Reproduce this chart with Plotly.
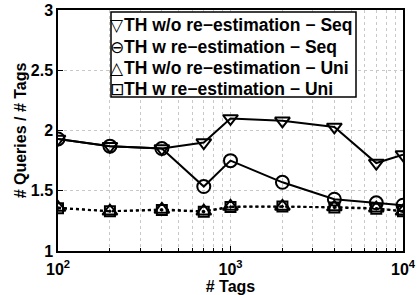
import plotly.graph_objects as go

tags = [100, 200, 400, 700, 1000, 2000, 4000, 7000, 10000]
th_wo_seq = [1.93, 1.87, 1.85, 1.90, 2.10, 2.08, 2.03, 1.73, 1.80]
th_w_seq = [1.93, 1.87, 1.85, 1.535, 1.75, 1.57, 1.43, 1.40, 1.38]
th_wo_uni = [1.36, 1.33, 1.345, 1.33, 1.37, 1.37, 1.365, 1.355, 1.33]
th_w_uni = [1.355, 1.33, 1.34, 1.325, 1.365, 1.37, 1.36, 1.35, 1.33]
names = ["TH w/o re\u2212estimation \u2212 Seq", "TH w re\u2212estimation \u2212 Seq",
         "TH w/o re\u2212estimation \u2212 Uni", "TH w re\u2212estimation \u2212 Uni"]
legend_glyphs = ["\u25BD", "\u2296", "\u25B3", "\u22A1"]
symbols = ["triangle-down-open", "circle-open", "triangle-up-open", "square-open-dot"]
sizes = [13, 13, 13, 10]
dashes = ["solid", "solid", "dot", "dot"]
series = [th_wo_seq, th_w_seq, th_wo_uni, th_w_uni]

W, H = 417, 295
ML, MR, MT, MB = 58, 14, 10, 44
PW, PH = W - ML - MR, H - MT - MB


def px_x(p):
    return (p - ML) / PW


def px_y(p):
    return (H - MB - p) / PH


FONT = "Liberation Sans"
fig = go.Figure()
for ys, sym, sz, dash, name in zip(series, symbols, sizes, dashes, names):
    fig.add_trace(go.Scatter(
        x=tags, y=ys, mode="lines+markers", showlegend=False, name=name,
        line=dict(color="black", width=2, dash=dash),
        marker=dict(symbol=sym, size=sz, color="black", line=dict(color="black", width=2)),
    ))

# legend box (drawn manually to match the compact MATLAB legend)
fig.add_shape(type="rect", xref="paper", yref="paper",
              x0=px_x(111), x1=px_x(356), y0=px_y(97), y1=px_y(12),
              line=dict(color="black", width=1.5), fillcolor="white", layer="above")
row_centers = [25, 47, 68, 89]
for name, glyph, rc in zip(names, legend_glyphs, row_centers):
    fig.add_annotation(xref="paper", yref="paper", x=px_x(117), y=px_y(rc),
                       text=glyph, showarrow=False, xanchor="center", yanchor="middle",
                       font=dict(size=17, color="black", family="DejaVu Sans"))
    fig.add_annotation(xref="paper", yref="paper", x=px_x(122), y=px_y(rc),
                       text="<b>" + name + "</b>", showarrow=False, xanchor="left", yanchor="middle",
                       font=dict(size=17.5, color="black", family=FONT))

axis_common = dict(
    showline=True, mirror=True, linecolor="black", linewidth=1.5,
    showgrid=True, gridcolor="#c8c8c8", griddash="dot", gridwidth=1,
    ticks="inside", ticklen=5, tickcolor="black", zeroline=False, automargin=False,
    tickfont=dict(size=16, color="black", family=FONT),
)
fig.update_xaxes(
    type="log", range=[2, 4],
    tickvals=[100, 1000, 10000],
    ticktext=["<b>10<sup>2</sup></b>", "<b>10<sup>3</sup></b>", "<b>10<sup>4</sup></b>"],
    minor=dict(showgrid=True, gridcolor="#c8c8c8", griddash="dot", ticks="inside", ticklen=3,
               tickcolor="black", dtick="D1"),
    ticklabelstandoff=3,
    title=dict(text="<b># Tags</b>", font=dict(size=16, color="black", family=FONT), standoff=0),
    **axis_common,
)
fig.update_yaxes(
    range=[1, 3], tickvals=[1, 1.5, 2, 2.5, 3],
    ticktext=["<b>1</b>", "<b>1.5</b>", "<b>2</b>", "<b>2.5</b>", "<b>3</b>"],
    title=dict(text="<b># Queries / # Tags</b>", font=dict(size=16, color="black", family=FONT), standoff=0),
    **axis_common,
)
fig.update_layout(
    width=W, height=H,
    margin=dict(l=ML, r=MR, t=MT, b=MB),
    plot_bgcolor="white", paper_bgcolor="white",
    font=dict(family=FONT, color="black"),
    showlegend=False,
)
fig.write_html("out.html", config={"displayModeBar": False},
               post_script="document.body.style.margin='0';")
